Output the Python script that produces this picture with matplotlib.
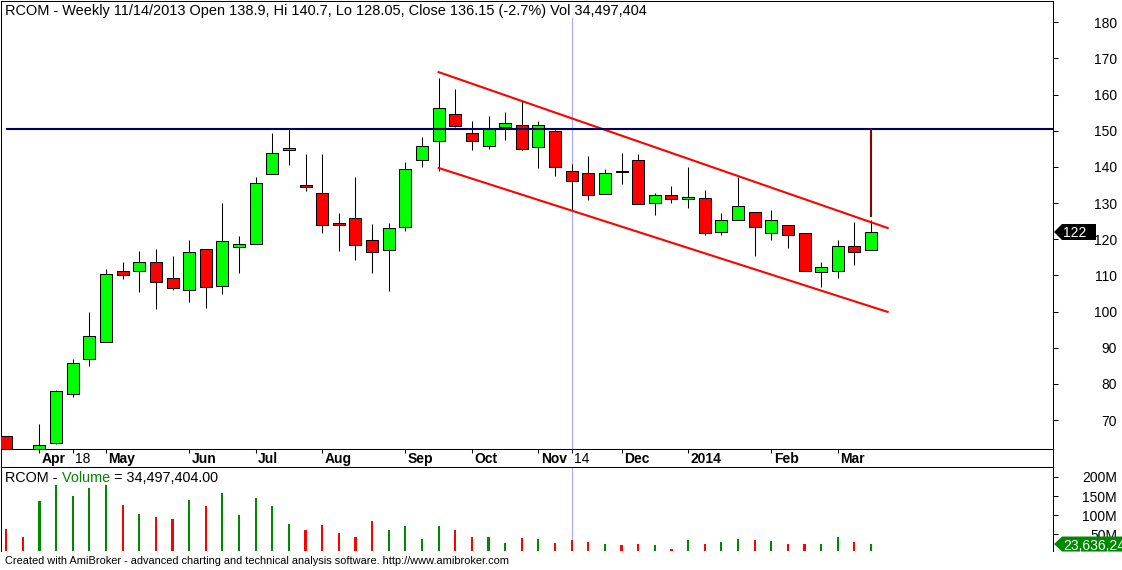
import numpy as np
import pandas as pd
import matplotlib
matplotlib.use("Agg")
import matplotlib.pyplot as plt
import matplotlib.transforms as mtransforms
from matplotlib.patches import Polygon

plt.rcParams['font.family'] = ['Liberation Sans', 'DejaVu Sans']

# weekly bars of RCOM, 22 Mar 2013 .. 21 Mar 2014 (index 0..52)
opens = [65.6, 60.5, 59.5, 63.6, 77.1, 87.0, 91.6, 111.1, 111.1, 113.6,
         109.4, 106.0, 117.2, 107.1, 117.9, 118.8, 137.9, 144.8, 135.1, 132.9,
         124.6, 126.0, 119.9, 116.9, 123.5, 142.0, 147.2, 154.7, 149.5, 145.9,
         151.1, 151.7, 145.6, 150.0, 138.9, 138.4, 132.6, 138.8, 142.0, 130.1,
         132.1, 131.0, 131.5, 122.1, 125.2, 127.6, 121.8, 124.0, 121.8, 110.8,
         111.3, 118.0, 117.1]
highs = [65.6, 61.5, 68.9, 78.3, 86.8, 99.8, 111.7, 113.6, 116.7, 117.2,
         115.3, 119.7, 117.2, 129.9, 120.8, 137.1, 149.3, 150.6, 143.5, 143.5,
         127.2, 137.1, 124.1, 124.6, 141.3, 148.2, 164.5, 161.4, 152.6, 154.2,
         155.3, 158.1, 152.6, 150.3, 140.7, 142.9, 139.5, 143.7, 143.5, 132.7,
         134.6, 139.9, 133.5, 127.2, 137.2, 127.6, 128.2, 124.0, 121.8, 113.6,
         119.7, 124.7, 125.4]
lows = [58.0, 57.5, 59.0, 63.3, 76.4, 85.0, 91.6, 109.0, 105.4, 100.7,
        105.9, 102.7, 100.9, 104.8, 110.7, 118.6, 137.9, 140.6, 133.3, 121.7,
        116.8, 114.3, 110.7, 105.7, 122.3, 140.0, 138.9, 151.0, 144.7, 144.9,
        147.4, 144.7, 139.7, 137.5, 128.05, 130.8, 132.6, 135.3, 129.6, 126.7,
        130.1, 128.6, 121.2, 121.2, 125.2, 115.4, 119.8, 117.6, 111.3, 106.9,
        109.4, 113.0, 116.9]
closes = [60.0, 59.0, 63.1, 78.0, 85.9, 93.2, 110.3, 110.2, 113.6, 108.3,
          106.4, 116.6, 106.8, 119.6, 118.6, 135.6, 143.9, 145.3, 134.4, 123.8,
          124.0, 118.5, 116.6, 123.2, 139.5, 145.9, 156.4, 151.3, 147.2, 150.6,
          152.2, 145.0, 151.7, 139.95, 136.15, 132.1, 138.4, 138.7, 129.8, 132.1,
          131.0, 131.8, 121.8, 125.2, 129.3, 123.5, 125.4, 121.3, 111.3, 112.2,
          118.2, 116.6, 122.0]
# volume in millions
vol_m = [63.2, 42.1, 136.8, 178.9, 150.0, 171.0, 178.9, 126.3, 102.6, 94.7,
         89.5, 139.5, 123.7, 157.9, 100.0, 144.7, 123.7, 76.3, 60.5, 73.7,
         52.6, 42.1, 84.2, 60.5, 71.1, 36.8, 71.1, 60.5, 42.1, 42.1,
         26.3, 39.5, 36.8, 26.3, 34.497404, 29.8, 23.7, 21.1, 23.7, 21.1,
         11.4, 34.2, 23.7, 29.8, 36.8, 34.2, 31.6, 23.7, 23.7, 23.7,
         42.1, 29.8, 23.636245]

# drawn studies
resistance = 150.6
chan_x = [26, 53]
chan_upper = [166.2, 123.1]
chan_lower = [139.7, 99.9]
drop_x = 52
drop_y = [126.2, 150.6]
selected_bar = 34

tick_idx = [2, 4, 6, 11, 15, 19, 24, 28, 32, 34, 37, 41, 46, 50]
tick_lab = ['Apr', '18', 'May', 'Jun', 'Jul', 'Aug', 'Sep', 'Oct', 'Nov', '14',
            'Dec', '2014', 'Feb', 'Mar']
price_ticks = list(range(70, 190, 10))
vol_ticks = [50, 100, 150, 200]

W, H = 1122, 570
fig = plt.figure(figsize=(W / 100, H / 100), dpi=100)
fig.patch.set_facecolor('white')

def box(x0, y0, x1, y1):
    # pixel box (top-left origin) -> figure fraction
    return [x0 / W, 1 - y1 / H, (x1 - x0) / W, (y1 - y0) / H]

ax = fig.add_axes(box(0.5, 0.5, 1053, 449))
ax_d = fig.add_axes(box(0.5, 449, 1053, 467))
ax_v = fig.add_axes(box(0.5, 467, 1053, 551))

idx = np.arange(len(opens))
o = np.array(opens); c = np.array(closes)
h = np.array(highs); l = np.array(lows)
up = c >= o
body_col = np.where(up, '#00ff00', '#ff0000')

xlim = (-0.343, 62.94)
lw1 = 0.75

# ---- price pane
ax.axvline(selected_bar, ymin=0, ymax=1 - 18 / 449, color='#a8a8ff', lw=0.8, zorder=1)
ax.vlines(idx, l, h, color='black', lw=lw1, zorder=2)
ax.bar(idx, np.maximum(np.abs(c - o), 0.1), bottom=np.minimum(o, c), width=0.72,
       color=body_col, edgecolor='black', linewidth=lw1, zorder=3)
ax.plot(chan_x, chan_upper, color='#ff0000', lw=1.5, zorder=4)
ax.plot(chan_x, chan_lower, color='#ff0000', lw=1.5, zorder=4)
ax.hlines(resistance, 0, xlim[1], color='#000060', lw=1.5, zorder=5)
ax.vlines(drop_x, drop_y[0], drop_y[1], color='#8b0000', lw=1.5, zorder=5)

ax.set_xlim(*xlim)
ax.set_ylim(62, 186)
ax.set_xticks([])
ax.yaxis.tick_right()
ax.set_yticks(price_ticks)
ax.set_yticklabels([str(t) for t in price_ticks])
ax.tick_params(axis='y', direction='out', length=3.6, width=lw1, pad=42.5,
               labelsize=10)
for t in ax.get_yticklabels():
    t.set_horizontalalignment('right')
for s in ax.spines.values():
    s.set_linewidth(lw1)

# ---- date strip
ax_d.set_xlim(*xlim)
ax_d.set_ylim(0, 1)
ax_d.set_yticks([])
ax_d.set_xticks(tick_idx)
ax_d.tick_params(axis='x', top=True, bottom=False, direction='in', length=2.9,
                 width=lw1, labelbottom=False, labeltop=False)
for s in ax_d.spines.values():
    s.set_linewidth(lw1)
for i, lab in zip(tick_idx, tick_lab):
    ax_d.annotate(lab, xy=(i, 1), xycoords=('data', 'axes fraction'),
                  xytext=(2.5, -13.7), textcoords='offset pixels',
                  va='baseline', ha='left', fontsize=10,
                  fontweight='normal' if lab in ('18', '14') else 'bold')

# ---- volume pane
vol_col = np.where(up, '#008800', '#ff0000')
ax_v.axvline(selected_bar, color='#a8a8ff', lw=0.8, zorder=1)
ax_v.bar(idx, np.array(vol_m) * 1e6, width=0.13, color=vol_col, zorder=2)
ax_v.set_xlim(*xlim)
ax_v.set_ylim(5.3e6, 226.3e6)
ax_v.set_xticks([])
ax_v.yaxis.tick_right()
ax_v.set_yticks([v * 1e6 for v in vol_ticks])
ax_v.set_yticklabels([f'{v}M' for v in vol_ticks])
ax_v.tick_params(axis='y', direction='out', length=3.6, width=lw1, pad=42.5,
                 labelsize=10)
for t in ax_v.get_yticklabels():
    t.set_horizontalalignment('right')
for s in ax_v.spines.values():
    s.set_linewidth(lw1)
ax_v.spines['bottom'].set_visible(False)

# ---- texts
fig.text(5 / W, 1 - 15 / H,
         'RCOM - Weekly 11/14/2013 Open 138.9, Hi 140.7, Lo 128.05, '
         'Close 136.15 (-2.7%) Vol 34,497,404',
         fontsize=10.45, va='baseline', ha='left')

t1 = fig.text(5.4 / W, 1 - 481.7 / H, 'RCOM -', fontsize=10.4, va='baseline')
t2 = ax_v.annotate(' Volume', xy=(1, 0), xycoords=t1, va='bottom', ha='left',
                   fontsize=10.4, color='#008800', annotation_clip=False)
t3 = ax_v.annotate(f' = {vol_m[selected_bar] * 1e6:,.2f}', xy=(1, 0), xycoords=t2,
                   va='bottom', ha='left', fontsize=10.4, annotation_clip=False)

fig.text(5 / W, 1 - 561.5 / H,
         'Created with AmiBroker - advanced charting and technical analysis '
         'software. http://www.amibroker.com',
         fontsize=7.95, va='center', ha='left')

# ---- last-value tags on the right axis
def value_tag(a, yval, text, face, right, half):
    trans = mtransforms.blended_transform_factory(a.transAxes, a.transData)
    px, py = trans.transform((1.0, yval))
    verts = [(px + 1, py), (px + 9, py + half), (px + right, py + half),
             (px + right, py - half), (px + 9, py - half)]
    fig.add_artist(Polygon(verts, closed=True, facecolor=face, edgecolor='none',
                           transform=mtransforms.IdentityTransform(), zorder=10))
    fig.text(px + 10, py, text, color='white', fontsize=10, va='center_baseline',
             ha='left', transform=mtransforms.IdentityTransform(), zorder=11)

value_tag(ax, closes[-1], f'{closes[-1]:.0f}', 'black', 43, 8)
value_tag(ax_v, vol_m[-1] * 1e6, f'{vol_m[-1] * 1e6:,.0f}', '#008800', 90, 7.5)

fig.savefig('out.png', dpi=100, facecolor='white')
